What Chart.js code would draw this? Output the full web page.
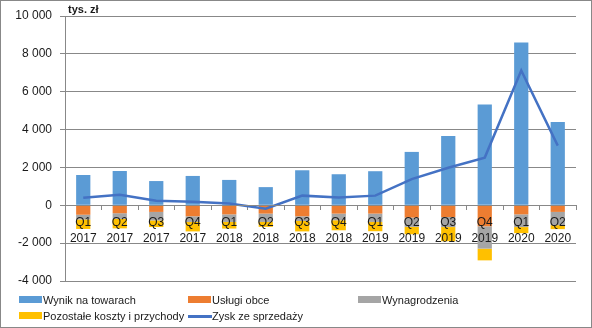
<!DOCTYPE html>
<html lang="pl">
<head>
<meta charset="utf-8">
<script src="https://cdn.jsdelivr.net/npm/chart.js@4/dist/chart.umd.min.js"></script>
<style>
  body { margin: 0; background: #fff; }
  #wrap { position: relative; width: 592px; height: 328px; }
  #frame { position: absolute; left: 0; top: 0; width: 592px; height: 328px; box-sizing: border-box; border: 1px solid #888; pointer-events: none; }
  #legend { position: absolute; left: 0; top: 0; width: 592px; height: 328px; pointer-events: none;
            font: 11px "Liberation Sans", Arial, sans-serif; color: #1a1a1a; }
  .item { position: absolute; height: 16px; line-height: 16px; white-space: nowrap; }
  .mk { position: absolute; left: 0; }
  .txt { position: absolute; left: 24px; top: 0; }
</style>
</head>
<body>
<div id="wrap">
  <canvas id="wykres" width="592" height="328"></canvas>
  <div id="legend"></div>
  <div id="frame"></div>
</div>
<script>
// ------------------- DANE -------------------
const kwartaly = ['Q1','Q2','Q3','Q4','Q1','Q2','Q3','Q4','Q1','Q2','Q3','Q4','Q1','Q2'];
const lata     = ['2017','2017','2017','2017','2018','2018','2018','2018','2019','2019','2019','2019','2020','2020'];

const wynikNaTowarach = [1600, 1810, 1280, 1550, 1340, 960, 1850, 1640, 1800, 2820, 3660, 5330, 8600, 4400];
const uslugiObce      = [-500, -420, -350, -580, -480, -440, -580, -440, -440, -650, -620, -1110, -480, -350];
const wynagrodzenia   = [-250, -300, -450, -300, -400, -440, -250, -350, -440, -490, -530, -1180, -670, -700];
const pozostale       = [-500, -500, -350, -500, -350, -260, -550, -530, -490, -390, -750, -620, -320, -210];
const zyskZeSprzedazy = [400, 560, 240, 190, 100, -180, 510, 410, 510, 1380, 1980, 2520, 7120, 3150];

const osY = { min: -4000, max: 10000, krok: 2000 };

// ------------------- WYKRES -------------------
const FONT = '"Liberation Sans", Arial, sans-serif';
const TEXT = '#1a1a1a';
const GRID = '#888888';

function formatTys(v){
  const s = Math.abs(v).toString().replace(/\B(?=(\d{3})+(?!\d))/g, ' ');
  return (v < 0 ? '-' : '') + s;
}

const jednostka = {
  id: 'jednostka',
  afterDraw(chart){
    const { ctx, chartArea } = chart;
    ctx.save();
    ctx.font = 'bold 11px ' + FONT;
    ctx.fillStyle = TEXT;
    ctx.textBaseline = 'alphabetic';
    ctx.fillText('tys. zł', chartArea.left + 3, chartArea.top - 3);
    ctx.restore();
  }
};

const labels = kwartaly.map((q, i) => [q, lata[i]]);

const bar = (label, data, color) => ({
  type: 'bar', label, data, backgroundColor: color, stack: 'k', order: 1,
  barPercentage: 0.39, categoryPercentage: 1
});

const chart = new Chart(document.getElementById('wykres'), {
  data: {
    labels,
    datasets: [
      bar('Wynik na towarach', wynikNaTowarach, '#5B9BD5'),
      bar('Usługi obce', uslugiObce, '#ED7D31'),
      bar('Wynagrodzenia', wynagrodzenia, '#A5A5A5'),
      bar('Pozostałe koszty i przychody', pozostale, '#FFC000'),
      {
        type: 'line', label: 'Zysk ze sprzedaży', data: zyskZeSprzedazy,
        borderColor: '#4472C4', backgroundColor: '#4472C4', borderWidth: 2.5,
        pointRadius: 0, tension: 0, stack: 'linia', order: 0
      }
    ]
  },
  options: {
    responsive: false,
    animation: false,
    layout: { padding: { left: 0, right: 16, top: 16, bottom: 47 } },
    plugins: { legend: { display: false }, tooltip: { enabled: false } },
    scales: {
      x: {
        position: { y: 0 },
        stacked: true,
        offset: true,
        grid: { drawOnChartArea: false, drawTicks: true, tickLength: 4, offset: true, color: GRID },
        border: { color: GRID, z: 1 },
        ticks: { z: 1, color: TEXT, padding: 5, maxRotation: 0, autoSkip: false,
                 font: { family: FONT, size: 12, lineHeight: 1.33 } }
      },
      y: {
        stacked: true,
        min: osY.min, max: osY.max,
        afterFit: s => { s.width = 65; },
        grid: { color: GRID, tickLength: 5 },
        border: { color: GRID },
        ticks: { stepSize: osY.krok, color: TEXT, padding: 8, callback: formatTys,
                 font: { family: FONT, size: 12 } }
      }
    }
  },
  plugins: [jednostka]
});

// ------------------- LEGENDA -------------------
const legenda = document.getElementById('legend');
const kolumny = [19, 188, 358];
const wiersze = [292, 308];
chart.data.datasets.forEach((ds, i) => {
  const el = document.createElement('div');
  el.className = 'item';
  el.style.left = kolumny[i % 3] + 'px';
  el.style.top = wiersze[Math.floor(i / 3)] + 'px';
  const mk = document.createElement('div');
  mk.className = 'mk';
  if (ds.type === 'line') {
    mk.style.cssText += 'top:7px;width:24px;height:2.5px;background:' + ds.borderColor;
  } else {
    mk.style.cssText += 'top:4px;width:23px;height:7px;background:' + ds.backgroundColor;
  }
  const t = document.createElement('span');
  t.className = 'txt';
  t.textContent = ds.label;
  el.appendChild(mk);
  el.appendChild(t);
  legenda.appendChild(el);
});
</script>
</body>
</html>
